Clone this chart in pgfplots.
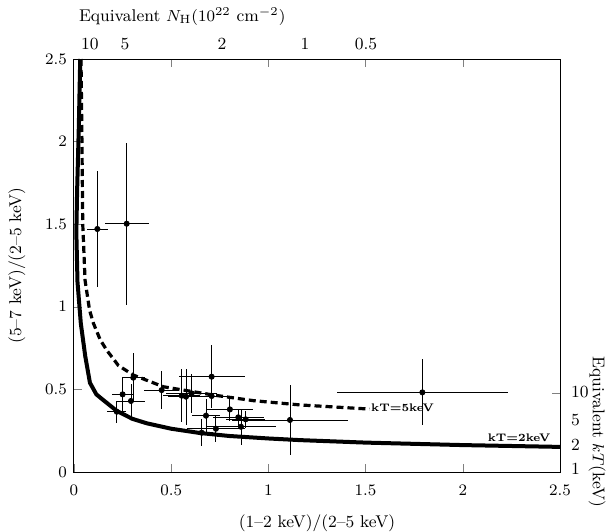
\documentclass[border=0pt]{standalone}
\usepackage{pgfplots}
\pgfplotsset{compat=1.18}
\usetikzlibrary{calc}
\begin{document}
\begin{tikzpicture}[font=\fontsize{8.5}{10}\selectfont]
\begin{axis}[
    scale only axis,
    width=243pt, height=206.5pt,
    xmin=0, xmax=2.5, ymin=0, ymax=2.5,
    xtick={0,0.5,1,1.5,2,2.5},
    ytick={0,0.5,1,1.5,2,2.5},
    xtick pos=left, ytick pos=left,
    tick align=inside,
    major tick length=4pt,
    xticklabel style={yshift=-3pt},
    xlabel={(1--2 keV)/(2--5 keV)},
    ylabel={(5--7 keV)/(2--5 keV)},
    xlabel style={yshift=-3pt},
    ylabel style={yshift=3pt},
    axis line style={line width=0.5pt},
    clip=false,
]
\coordinate (bl) at (rel axis cs:0,0);
\coordinate (tr) at (rel axis cs:1,1);

% kT = 2 keV track
\addplot[black, line width=2pt] coordinates {
    (0.032,2.5) (0.025,2.1) (0.016,1.7) (0.012,1.45) (0.018,1.15)
    (0.035,0.9) (0.058,0.7) (0.082,0.54) (0.115,0.47) (0.15,0.436)
    (0.22,0.37) (0.3,0.322) (0.374,0.295) (0.5,0.262) (0.648,0.236)
    (0.8,0.218) (1.0,0.203) (1.163,0.193) (1.5,0.178) (2.0,0.163) (2.5,0.152)
};

% kT = 5 keV track
\addplot[black, line width=1.6pt, dash pattern=on 3.5pt off 2pt] coordinates {
    (0.036,2.5) (0.04,2.1) (0.045,1.5) (0.057,1.16) (0.08,0.98)
    (0.1,0.9) (0.135,0.8) (0.168,0.738) (0.228,0.645) (0.305,0.587)
    (0.46,0.516) (0.717,0.466) (0.922,0.432) (1.163,0.406) (1.52,0.381)
};

% sources
\addplot[only marks, mark=*, mark size=1.3pt, black,
    error bars/.cd, x dir=both, x explicit, y dir=both, y explicit,
    error mark=none, error bar style={line width=0.45pt}]
coordinates {
    (0.120,1.471) +- (0.054,0.35)
    (0.271,1.503) +- (0.114,0.49)
    (0.250,0.470) +- (0.056,0.10)
    (0.305,0.571) +- (0.06,0.15)
    (0.293,0.430) +- (0.072,0.10)
    (0.220,0.365) +- (0.048,0.066)
    (0.451,0.496) +- (0.09,0.115)
    (0.554,0.462) +- (0.095,0.16)
    (0.576,0.456) +- (0.09,0.17)
    (0.605,0.476) +- (0.13,0.12)
    (0.708,0.577) +- (0.17,0.19)
    (0.708,0.460) +- (0.10,0.06)
    (0.679,0.341) +- (0.07,0.10)
    (0.802,0.379) +- (0.12,0.07)
    (0.730,0.262) +- (0.15,0.08)
    (0.657,0.238) +- (0.06,0.08)
    (0.845,0.331) +- (0.13,0.05)
    (0.859,0.274) +- (0.18,0.11)
    (0.883,0.319) +- (0.10,0.05)
    (1.111,0.315) +- (0.30,0.21)
    (1.792,0.482) +- (0.44,0.20)
};

\node[font=\fontsize{5.5}{6}\selectfont\bfseries] at (axis cs:1.69,0.387) {kT=5keV};
\node[font=\fontsize{5.5}{6}\selectfont\bfseries] at (axis cs:2.29,0.205) {kT=2keV};

% top scale: equivalent N_H
\node[anchor=base, yshift=5pt] at (axis cs:0.082,2.5) {10};
\node[anchor=base, yshift=5pt] at (axis cs:0.262,2.5) {5};
\node[anchor=base, yshift=5pt] at (axis cs:0.761,2.5) {2};
\node[anchor=base, yshift=5pt] at (axis cs:1.188,2.5) {1};
\node[anchor=base, yshift=5pt] at (axis cs:1.502,2.5) {0.5};
\node[anchor=base west, yshift=19pt, xshift=-1pt] at (axis cs:0,2.5) {Equivalent $N_{\mathrm{H}}(10^{22}$ cm$^{-2})$};

% right scale: equivalent kT
\node[anchor=west, xshift=2pt] at (axis cs:2.5,0.486) {10};
\node[anchor=west, xshift=2pt] at (axis cs:2.5,0.315) {5};
\node[anchor=west, xshift=2pt] at (axis cs:2.5,0.163) {2};
\node[anchor=west, xshift=2pt] at (axis cs:2.5,0.022) {1};
\node[rotate=-90] at ($(axis cs:2.5,0.242)+(18.5pt,0)$) {Equivalent $kT$(keV)};
\end{axis}

\begin{axis}[
    scale only axis,
    width=243pt, height=206.5pt,
    xmin=0, xmax=2.5, ymin=0, ymax=2.5,
    axis x line*=top, axis y line*=right,
    xtick={0.5,1,1.5,2}, xticklabels={},
    ytick={0.478}, yticklabels={},
    tick align=inside,
    major tick length=4pt,
    axis line style={line width=0.5pt},
]
\end{axis}

\pgfresetboundingbox
\path[use as bounding box] ($(bl)+(-37pt,-29.5pt)$) rectangle ($(tr)+(24pt,29.5pt)$);
\end{tikzpicture}
\end{document}
